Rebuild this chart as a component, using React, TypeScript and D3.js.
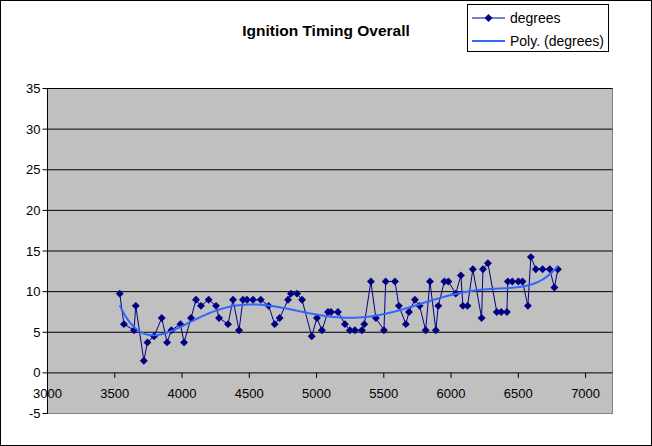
import React from "react";
import * as d3 from "d3";

const rpm: number[] = [
  3537, 3568, 3643, 3656, 3716, 3743, 3792, 3849, 3889, 3921,
  3988, 4015, 4067, 4104, 4141, 4198, 4253, 4275, 4342, 4379,
  4424, 4453, 4483, 4528, 4585, 4644, 4689, 4726, 4788, 4810,
  4855, 4892, 4964, 5003, 5040, 5085, 5107, 5159, 5211, 5248,
  5285, 5337, 5355, 5404, 5441, 5501, 5514, 5583, 5612, 5664,
  5687, 5731, 5766, 5811, 5843, 5887, 5905, 5950, 5980, 6035,
  6073, 6088, 6122, 6162, 6227, 6237, 6274, 6340, 6373, 6415,
  6422, 6455, 6500, 6531, 6571, 6593, 6630, 6680, 6734, 6768,
  6794,
];
const degrees: number[] = [
  9.75, 6.0, 5.25, 8.25, 1.5, 3.75, 4.5, 6.75, 3.75, 5.25,
  6.0, 3.75, 6.75, 9.0, 8.25, 9.0, 8.25, 6.75, 6.0, 9.0,
  5.25, 9.0, 9.0, 9.0, 9.0, 8.25, 6.0, 6.75, 9.0, 9.75,
  9.75, 9.0, 4.5, 6.75, 5.25, 7.5, 7.5, 7.5, 6.0, 5.25,
  5.25, 5.25, 6.0, 11.25, 6.75, 5.25, 11.25, 11.25, 8.25, 6.0,
  7.5, 9.0, 8.25, 5.25, 11.25, 5.25, 8.25, 11.25, 11.25, 9.75,
  12.0, 8.25, 8.25, 12.75, 6.75, 12.75, 13.5, 7.5, 7.5, 7.5,
  11.25, 11.25, 11.25, 11.25, 8.25, 14.25, 12.75, 12.75, 12.75, 10.5,
  12.75,
];
const xTicks: number[] = [3000, 3500, 4000, 4500, 5000, 5500, 6000, 6500, 7000];
const yTicks: number[] = [-5, 0, 5, 10, 15, 20, 25, 30, 35];
const title = "Ignition Timing Overall";
const seriesName = "degrees";
const trendName = "Poly. (degrees)";
const polyOrder = 6;

function polyFit(xs: number[], ys: number[], order: number, cx: number, sx: number) {
  const n = order + 1;
  const A: number[][] = Array.from({ length: n }, () => new Array(n + 1).fill(0));
  xs.forEach((x, k) => {
    const t = (x - cx) / sx;
    const pw: number[] = [];
    for (let i = 0; i < 2 * n; i++) pw.push(Math.pow(t, i));
    for (let i = 0; i < n; i++) {
      for (let j = 0; j < n; j++) A[i][j] += pw[i + j];
      A[i][n] += pw[i] * ys[k];
    }
  });
  for (let c = 0; c < n; c++) {
    let p = c;
    for (let r = c + 1; r < n; r++) if (Math.abs(A[r][c]) > Math.abs(A[p][c])) p = r;
    [A[c], A[p]] = [A[p], A[c]];
    for (let r = 0; r < n; r++) {
      if (r === c) continue;
      const f = A[r][c] / A[c][c];
      for (let k = c; k <= n; k++) A[r][k] -= f * A[c][k];
    }
  }
  const coef = A.map((row, i) => row[n] / row[i]);
  return (x: number) => {
    const t = (x - cx) / sx;
    let s = 0;
    for (let i = n - 1; i >= 0; i--) s = s * t + coef[i];
    return s;
  };
}

export default function App() {
  const W = 652, H = 446;
  const left = 47.5, right = 612.5, top = 88.5, bottom = 413.5;
  const x = d3.scaleLinear().domain([3000, 7200]).range([left, right]);
  const y = d3.scaleLinear().domain([-5, 35]).range([bottom, top]);
  const pts = rpm.map((r, i) => [r, degrees[i]] as [number, number]);
  const dataLine = d3.line<[number, number]>().x((d) => x(d[0])).y((d) => y(d[1]));
  const f = polyFit(rpm, degrees, polyOrder, 5200, 1000);
  const xmin = d3.min(rpm)!, xmax = d3.max(rpm)!;
  const trendPts: [number, number][] = d3.range(xmin, xmax, 5).concat([xmax]).map((v) => [v, f(v)]);
  const diamond = d3.symbol().type(d3.symbolDiamond2).size(40)()!;
  const font = "Arial, 'Liberation Sans', sans-serif";
  const fs = 13;
  return (
    <svg width={W} height={H} style={{ position: "absolute", left: 0, top: 0 }} fontFamily={font}>
      <rect x={0.5} y={0.5} width={W - 1} height={H - 1} fill="#fff" stroke="#000" />
      <text x={326} y={35.5} textAnchor="middle" fontWeight="bold" fontSize={15.5}>{title}</text>
      <rect x={left} y={top} width={right - left} height={bottom - top} fill="#C0C0C0" stroke="#808080" />
      {yTicks.filter((t) => t > 0).map((t) => (
        <line key={"g" + t} x1={left} x2={right} y1={y(t)} y2={y(t)} stroke="#000" />
      ))}
      <line x1={left} x2={left} y1={top} y2={bottom} stroke="#000" />
      {yTicks.map((t) => (
        <g key={"y" + t}>
          <line x1={left - 5} x2={left} y1={y(t)} y2={y(t)} stroke="#000" />
          <text x={left - 7} y={y(t) + 4.5} textAnchor="end" fontSize={fs}>{t}</text>
        </g>
      ))}
      <line x1={left} x2={right} y1={y(0)} y2={y(0)} stroke="#000" />
      {xTicks.map((t) => (
        <g key={"x" + t}>
          <line x1={x(t)} x2={x(t)} y1={y(0)} y2={y(0) + 5} stroke="#000" />
          <text x={x(t)} y={y(0) + 25} textAnchor="middle" fontSize={fs}>{t}</text>
        </g>
      ))}
      <path d={dataLine(pts)!} fill="none" stroke="#000080" strokeWidth={1} />
      {pts.map((d, i) => (
        <path key={"p" + i} d={diamond} transform={`translate(${x(d[0])},${y(d[1])})`} fill="#000080" />
      ))}
      <path d={dataLine(trendPts)!} fill="none" stroke="#3366FF" strokeWidth={2} />
      <rect x={467.5} y={4.5} width={141} height={47} fill="#fff" stroke="#000" />
      <line x1={472} x2={505} y1={18} y2={18} stroke="#000080" />
      <path d={diamond} transform="translate(488.5,18)" fill="#000080" />
      <text x={510} y={23} fontSize={fs + 1}>{seriesName}</text>
      <line x1={472} x2={505} y1={41} y2={41} stroke="#3366FF" strokeWidth={2} />
      <text x={510} y={46} fontSize={fs + 1}>{trendName}</text>
    </svg>
  );
}
